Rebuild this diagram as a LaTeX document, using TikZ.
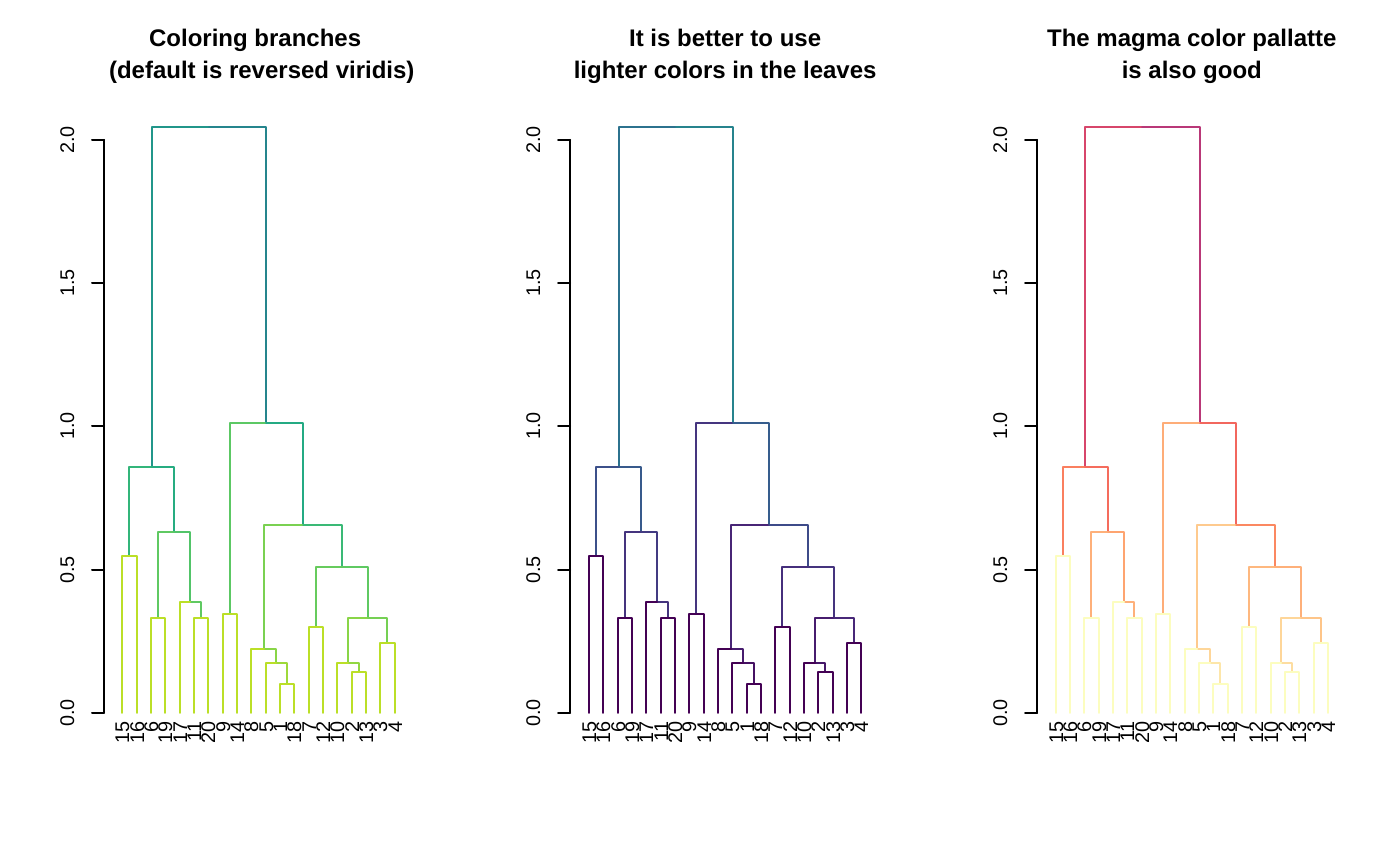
\documentclass[tikz,border=0pt]{standalone}
\usepackage{fontspec}
\setmainfont{Liberation Sans}
% panel 1: reversed viridis (end .9)
\definecolor{p1leaf}{RGB}{187,223,39}
\definecolor{p1H}{RGB}{158,217,58}
\definecolor{p1I}{RGB}{137,213,71}
\definecolor{p1M}{RGB}{137,213,71}
\definecolor{p1J}{RGB}{122,209,81}
\definecolor{p1L}{RGB}{146,215,66}
\definecolor{p1N}{RGB}{117,208,84}
\definecolor{p1K}{RGB}{103,203,93}
\definecolor{p1B}{RGB}{95,201,98}
\definecolor{p1C}{RGB}{95,201,98}
\definecolor{p1O}{RGB}{95,201,98}
\definecolor{p1G}{RGB}{92,200,100}
\definecolor{p1D}{RGB}{82,196,105}
\definecolor{p1A}{RGB}{51,181,122}
\definecolor{p1P}{RGB}{58,185,118}
\definecolor{p1E}{RGB}{38,172,129}
\definecolor{p1Q}{RGB}{36,170,131}
\definecolor{p1F}{RGB}{33,150,138}
\definecolor{p1R}{RGB}{37,133,141}
% panel 2: viridis (end .9)
\definecolor{p2leaf}{RGB}{68,1,84}
\definecolor{p2H}{RGB}{70,17,99}
\definecolor{p2I}{RGB}{71,28,110}
\definecolor{p2M}{RGB}{71,28,110}
\definecolor{p2J}{RGB}{72,37,118}
\definecolor{p2L}{RGB}{70,24,105}
\definecolor{p2N}{RGB}{72,40,120}
\definecolor{p2K}{RGB}{70,47,124}
\definecolor{p2B}{RGB}{69,52,126}
\definecolor{p2C}{RGB}{69,52,126}
\definecolor{p2O}{RGB}{69,52,126}
\definecolor{p2G}{RGB}{69,53,127}
\definecolor{p2D}{RGB}{67,59,130}
\definecolor{p2A}{RGB}{60,80,138}
\definecolor{p2P}{RGB}{62,75,137}
\definecolor{p2E}{RGB}{56,90,140}
\definecolor{p2Q}{RGB}{54,93,141}
\definecolor{p2F}{RGB}{44,114,142}
\definecolor{p2R}{RGB}{38,131,141}
% panel 3: reversed magma
\definecolor{p3leaf}{RGB}{252,253,191}
\definecolor{p3H}{RGB}{253,230,169}
\definecolor{p3I}{RGB}{254,214,153}
\definecolor{p3M}{RGB}{254,214,153}
\definecolor{p3J}{RGB}{254,202,142}
\definecolor{p3L}{RGB}{253,221,160}
\definecolor{p3N}{RGB}{254,197,137}
\definecolor{p3K}{RGB}{254,184,127}
\definecolor{p3B}{RGB}{254,176,122}
\definecolor{p3C}{RGB}{254,176,122}
\definecolor{p3O}{RGB}{254,176,122}
\definecolor{p3G}{RGB}{254,173,120}
\definecolor{p3D}{RGB}{254,164,112}
\definecolor{p3A}{RGB}{250,127,95}
\definecolor{p3P}{RGB}{251,136,97}
\definecolor{p3E}{RGB}{245,108,93}
\definecolor{p3Q}{RGB}{242,103,94}
\definecolor{p3F}{RGB}{215,70,107}
\definecolor{p3R}{RGB}{185,56,120}

% #1 prefix, #2 x offset, #3/#4 title lines, #5 half-space shift of the title lines
\newcommand\dendpanel[5]{%
  \foreach \lab [count=\i] in {15,16,6,19,17,11,20,9,14,8,5,1,18,7,12,10,2,13,3,4}{
    \pgfmathsetmacro\px{round(#2+14.3333*\i)}
    \coordinate (#1-l\lab) at (\px,153);
    \node[leaflab] (#1-n\lab) at (\px,145) {\lab};
  }
  \foreach \nm/\xx/\hh in {A/1.5/0.549, B/3.5/0.3327, C/6.5/0.3327, D/5.75/0.3886,
      E/4.625/0.633, F/3.0625/0.857, G/8.5/0.3467, H/12.5/0.1012, I/11.75/0.1734,
      J/10.875/0.2246, K/14.5/0.3013, L/17.5/0.142, M/16.75/0.1734, N/19.5/0.2455,
      O/18.125/0.3327, P/16.3125/0.5108, Q/13.59375/0.656, R/11.046875/1.011,
      Root/7.0547/2.046}{
    \pgfmathsetmacro\px{round(#2+14.3333*\xx)}
    \pgfmathsetmacro\py{round(153+286.5*\hh)}
    \coordinate (#1-\nm) at (\px,\py);
  }
  \foreach \pa/\ch in {Root/F,Root/R,F/A,F/E,E/B,E/D,D/C,R/G,R/Q,Q/J,Q/P,J/I,I/H,P/K,P/O,O/M,O/N,M/L}{
    \draw[branch,draw=#1\ch] (#1-\pa) -| (#1-\ch);
  }
  \foreach \pa/\ch in {A/15,A/16,B/6,B/19,D/17,C/11,C/20,G/9,G/14,J/8,I/5,H/1,H/18,K/7,K/12,M/10,L/2,L/13,N/3,N/4}{
    \draw[branch,draw=#1leaf] (#1-\pa) -| (#1-l\ch);
  }
  \pgfmathsetmacro\axx{round(#2-4.47)}
  \coordinate (#1-ax0) at (\axx,153);
  \coordinate (#1-ax2) at (\axx,726);
  \draw[axisline] (#1-ax0) -- (#1-ax2);
  \foreach \h/\t [count=\k] in {0/0.0,0.5/0.5,1/1.0,1.5/1.5,2/2.0}{
    \pgfmathsetmacro\ty{round(153+286.5*\h)}
    \draw[axisline] (\axx,\ty) -- ++(-12,0);
    \node[ticklab] (#1-tk\k) at (\axx-30,\ty) {\t};
  }
  \node[titlelab] (#1-ti1) at (#2+150.5-#5,819) {#3};
  \node[titlelab] (#1-ti2) at (#2+150.5+#5,787) {#4};
}

\begin{document}
\begin{tikzpicture}[x=1pt,y=1pt,
  branch/.style={line width=2pt, line cap=round, line join=round},
  axisline/.style={line width=2pt, draw=black, line cap=round},
  ticklab/.style={rotate=90, anchor=base, inner sep=0pt, font=\fontsize{19.8}{23}\selectfont},
  leaflab/.style={rotate=90, anchor=east, inner sep=0pt, text height=14.2pt, text depth=0pt, font=\fontsize{19.8}{23}\selectfont},
  titlelab/.style={anchor=base, inner sep=0pt, font=\fontsize{24}{28}\selectfont\bfseries}]
\fill[white] (0,0) rectangle (1400,866);
\useasboundingbox (0,0) rectangle (1400,866);
\dendpanel{p1}{107.97}{Coloring branches}{(default is reversed viridis)}{3.3}
\dendpanel{p2}{574.64}{It is better to use}{lighter colors in the leaves}{0}
\dendpanel{p3}{1041.31}{The magma color pallatte}{is also good}{0}
\end{tikzpicture}
\end{document}
